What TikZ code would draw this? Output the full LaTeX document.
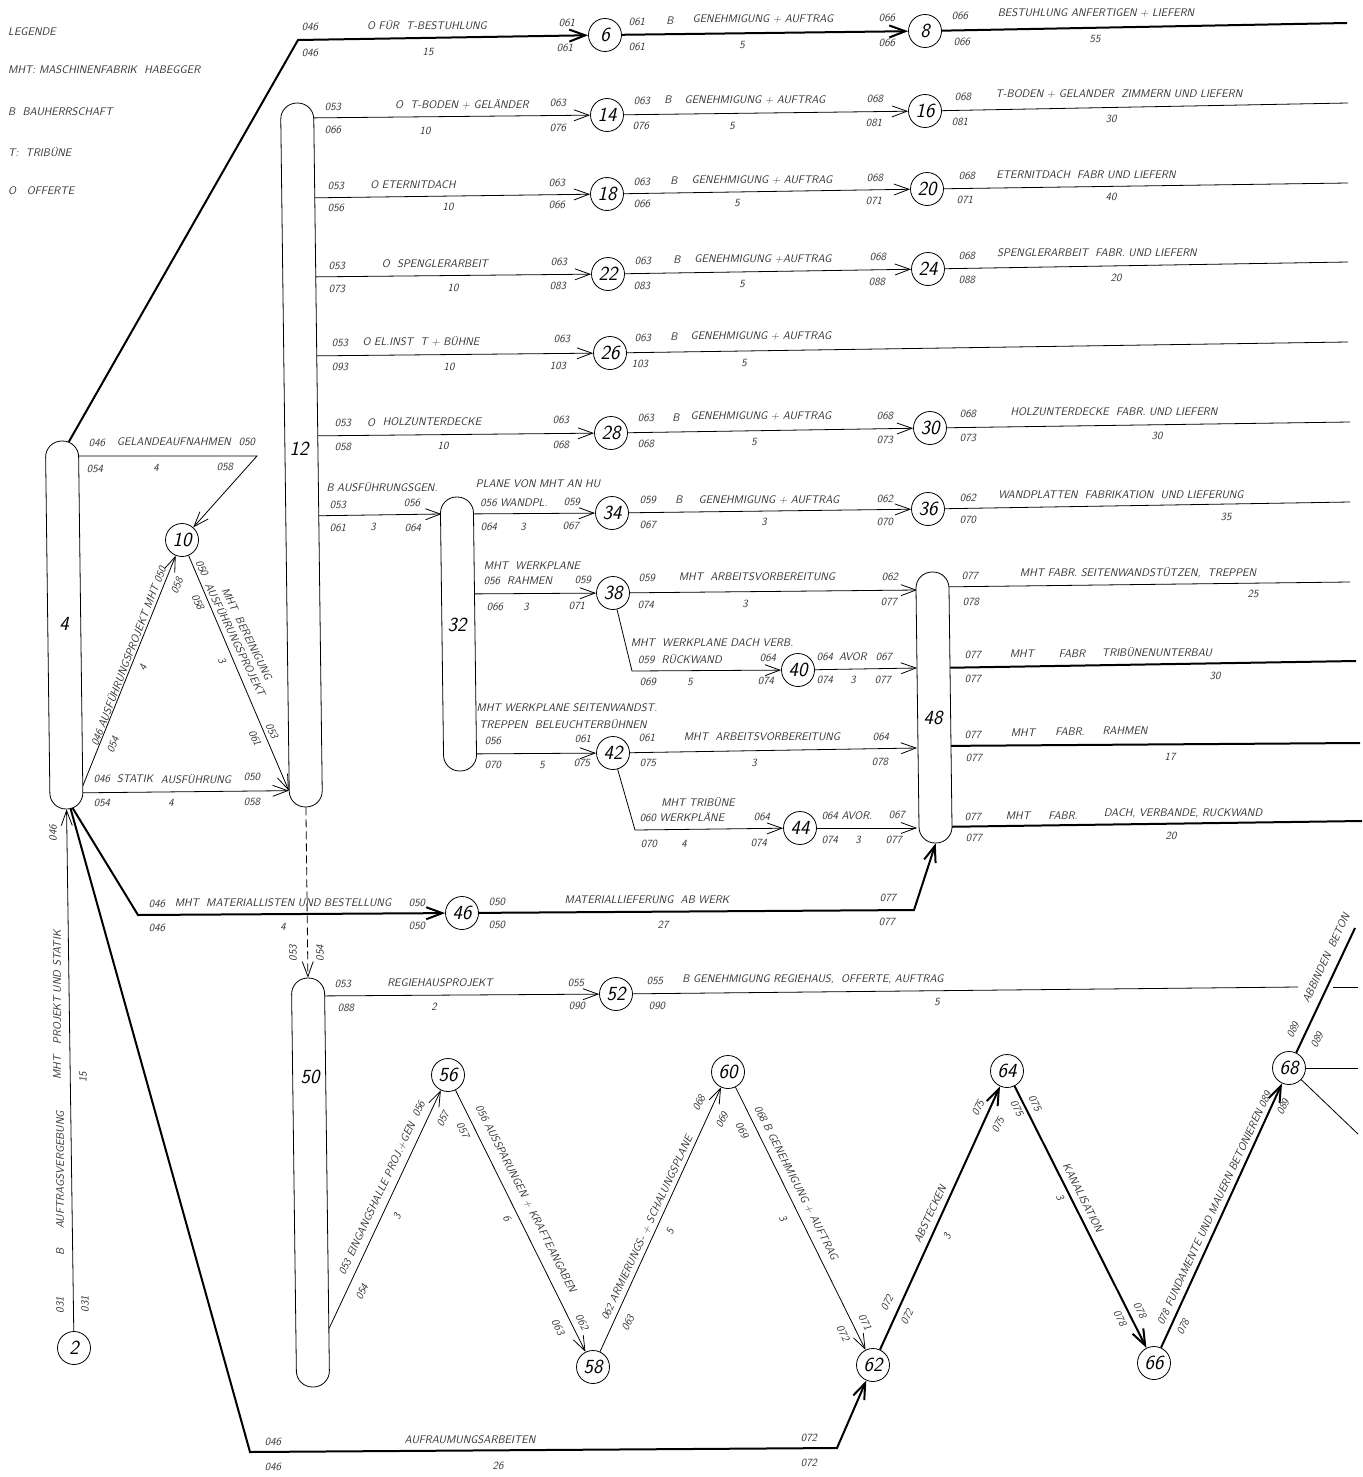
\documentclass[tikz,border=0pt]{standalone}
\usepackage{tikz}
\usetikzlibrary{arrows.meta, calc, backgrounds}

\newcommand{\lblfont}{\fontsize{11}{13}\sffamily\slshape\selectfont}
\newcommand{\numfont}{\fontsize{20}{22}\sffamily\slshape\selectfont}

\tikzset{
  evt/.style={circle, draw, line width=.8pt, fill=white, minimum size=33pt, inner sep=0pt, font=\numfont},
  bar/.style={draw, line width=.8pt, fill=white, rounded corners=16pt, minimum width=33pt, inner sep=0pt, rotate=.72},
  barnum/.style={font=\numfont},
  go/.style={line width=.8pt},
  thk/.style={line width=2pt},
  act/.style={go, -{Straight Barb[length=15pt,width=11pt]}},
  crit/.style={thk, -{Straight Barb[length=16pt,width=12pt]}},
  lbl/.style={font=\lblfont, text=black!80, inner sep=0pt},
}

\begin{document}
\begin{tikzpicture}[x=1pt, y=-1pt]
\useasboundingbox (0,0) rectangle (1362,1477);

% Legende
\node[lbl, anchor=west] (leg) at (8,32) {LEGENDE};
\node[lbl, anchor=west] (leg1) at (8,70) {MHT:\ MASCHINENFABRIK\ \ HABEGGER};
\node[lbl, anchor=west] (leg2) at (8,112) {B\ \ BAUHERRSCHAFT};
\node[lbl, anchor=west] (leg3) at (8,152) {T:\ \ TRIBÜNE};
\node[lbl, anchor=west] (leg4) at (8,191) {O\ \ \ OFFERTE};

% Sammelbalken
\node[bar, minimum height=368pt] (p4) at (64.25,625) {};
\node[bar, minimum height=704pt] (p12) at (301.5,455) {};
\node[bar, minimum height=274pt] (p32) at (458.5,634) {};
\node[bar, minimum height=271pt] (p48) at (934,707.5) {};
\node[bar, minimum height=409pt] (p50) at (310.5,1182.5) {};
\node[barnum] (b4) at (64,624) {4};
\node[barnum] (b12) at (299,449) {12};
\node[barnum] (b32) at (457,625) {32};
\node[barnum] (b48) at (933,718) {48};
\node[barnum] (b50) at (310,1077) {50};

% Ereignisse
\node[evt] (n2) at (74,1348) {2};
\node[evt] (n6) at (605,35) {6};
\node[evt] (n8) at (925,31) {8};
\node[evt] (n10) at (182,540) {10};
\node[evt] (n14) at (607,115) {14};
\node[evt] (n16) at (925,111) {16};
\node[evt] (n18) at (607,194) {18};
\node[evt] (n20) at (927,189) {20};
\node[evt] (n22) at (608,274) {22};
\node[evt] (n24) at (928,269) {24};
\node[evt] (n26) at (610,353) {26};
\node[evt] (n28) at (611,433) {28};
\node[evt] (n30) at (930,428) {30};
\node[evt] (n34) at (612,513) {34};
\node[evt] (n36) at (928,509) {36};
\node[evt] (n38) at (613,593) {38};
\node[evt] (n40) at (798,670) {40};
\node[evt] (n42) at (613,753) {42};
\node[evt] (n44) at (800,828) {44};
\node[evt] (n46) at (462,913) {46};
\node[evt] (n52) at (616,994) {52};
\node[evt] (n56) at (448,1075) {56};
\node[evt] (n58) at (593,1367) {58};
\node[evt] (n60) at (728,1072) {60};
\node[evt] (n62) at (873,1365) {62};
\node[evt] (n64) at (1007,1071) {64};
\node[evt] (n66) at (1154,1363) {66};
\node[evt] (n68) at (1289,1068) {68};

% Knickpunkte und freie Enden
\coordinate (t12) at ($(p12.north west)!.976!(p12.south west)$);
\coordinate (k6) at (298,40);
\coordinate (k10) at (257,456);
\coordinate (k40) at (632,671);
\coordinate (k44) at (635,830);
\coordinate (k46) at (138,915);
\coordinate (k48) at (914,910);
\coordinate (k62a) at (250,1452);
\coordinate (k62b) at (837,1448);
\coordinate (e8) at (1347,23);
\coordinate (e16) at (1348,103);
\coordinate (e20) at (1348,183);
\coordinate (e24) at (1348,262);
\coordinate (e26) at (1348,342);
\coordinate (e30) at (1350,422);
\coordinate (e36) at (1350,502);
\coordinate (e48a) at (1350,582);
\coordinate (e48b) at (1356,661);
\coordinate (e48c) at (1360,743);
\coordinate (e48d) at (1362,821);
\coordinate (e52a) at (1298,987);
\coordinate (e52b) at (1333,987);
\coordinate (e52c) at (1358,987);
\coordinate (e68a) at (1355,928);
\coordinate (e68b) at (1358,1068);
\coordinate (e68c) at (1358,1134);

% Taetigkeiten
\begin{scope}[on background layer]
\draw[crit] ([xshift=3pt,yshift=-8pt]p4.north) -- (k6) -- (n6);
\draw[crit] (n6) -- (n8);
\draw[thk] (n8) -- (e8);
\draw[act] (p12 |- 0,118) -- (n14);
\draw[act] (n14) -- (n16);
\draw[go] (n16) -- (e16);
\draw[act] (p12 |- 0,198) -- (n18);
\draw[act] (n18) -- (n20);
\draw[go] (n20) -- (e20);
\draw[act] (p12 |- 0,277) -- (n22);
\draw[act] (n22) -- (n24);
\draw[go] (n24) -- (e24);
\draw[act] (p12 |- 0,356) -- (n26);
\draw[go] (n26) -- (e26);
\draw[act] (p12 |- 0,436) -- (n28);
\draw[act] (n28) -- (n30);
\draw[go] (n30) -- (e30);
\draw[act] (p12 |- 0,516) -- (p32.west |- 0,514);
\draw[act] (p32 |- 0,514) -- (n34);
\draw[act] (n34) -- (n36);
\draw[go] (n36) -- (e36);
\draw[act] (p32 |- 0,594) -- (n38);
\draw[act] (n38) -- (p48.west |- 0,590);
\draw[act] (n38) -- (k40) -- (n40);
\draw[act] (n40) -- (p48.west |- 0,668);
\draw[act] (p32 |- 0,754) -- (n42);
\draw[act] (n42) -- (p48.west |- 0,748);
\draw[act] (n42) -- (k44) -- (n44);
\draw[act] (n44) -- (p48.west |- 0,828);
\draw[go] (p48 |- 0,587) -- (e48a);
\draw[thk] (p48 |- 0,668) -- (e48b);
\draw[thk] (p48 |- 0,746) -- (e48c);
\draw[thk] (p48 |- 0,827) -- (e48d);
% Dreieck um 10
\draw[act] (p4 |- 0,456) -- (k10) -- (n10);
\draw[act] (p4.east |- 0,790) -- (n10);
\draw[act] (n10) -- (t12);
\draw[act] (p4 |- 0,793) -- (t12);
% unterer Teil
\draw[act] (n2) -- (p4.south);
\draw[crit] ([xshift=2pt,yshift=8pt]p4.south) -- (k46) -- (n46);
\draw[crit] (n46) -- (k48) -- (p48.south);
\draw[crit] ([xshift=2pt,yshift=8pt]p4.south) -- (k62a) -- (k62b) -- (n62);
\draw[act, dash pattern=on 8pt off 4pt] (p12.south) -- (p50.north);
\draw[act] (p50 |- 0,996) -- (n52);
\draw[go] (n52) -- (e52a);
\draw[go] (e52b) -- (e52c);
\draw[act] (p50.east |- 0,1332) -- (n56);
\draw[act] (n56) -- (n58);
\draw[act] (n58) -- (n60);
\draw[act] (n60) -- (n62);
\draw[crit] (n62) -- (n64);
\draw[crit] (n64) -- (n66);
\draw[crit] (n66) -- (n68);
\draw[thk] (n68) -- (e68a);
\draw[go] (n68) -- (e68b);
\draw[go] (n68) -- (e68c);
\end{scope}

% Beschriftung oben
\foreach \x/\y/\t in {310/27/046, 310/53/046, 427/25/O FÜR\ \ T-BESTUHLUNG, 428/52/15, 567/23/061, 565/48/061,
  637/22/061, 670/21/B, 763/19/GENEHMIGUNG + AUFTRAG, 887/18/066, 887/43/066, 637/47/061, 742/45/5,
  960/16/066, 1096/13/BESTUHLUNG ANFERTIGEN + LIEFERN, 962/42/066, 1095/39/55,
  333/107/053, 462/104/O\ \ T-BODEN + GELÄNDER, 558/103/063, 333/130/066, 425/131/10, 558/128/076,
  642/101/063, 668/100/B, 755/100/GENEHMIGUNG + AUFTRAG, 875/99/068, 641/126/076, 732/126/5, 874/123/081,
  963/97/068, 1119/94/T-BODEN + GELANDER\ \ ZIMMERN UND LIEFERN, 960/122/081, 1111/119/30,
  336/186/053, 413/185/O ETERNITDACH, 557/183/063, 336/208/056, 448/207/10, 557/205/066,
  642/182/063, 674/181/B, 762/180/GENEHMIGUNG + AUFTRAG, 875/178/068, 642/204/066, 737/203/5, 874/201/071,
  967/176/068, 1086/175/ETERNITDACH\ \ FABR UND LIEFERN, 965/200/071, 1111/197/40,
  337/266/053, 435/264/O\ \ SPENGLERARBEIT, 559/262/063, 337/289/073, 453/288/10, 558/286/083,
  643/261/063, 677/260/B, 763/259/GENEHMIGUNG +AUFTRAG, 878/257/068, 642/286/083, 742/284/5, 877/282/088,
  967/256/068, 1097/253/SPENGLERARBEIT\ \ FABR.\ UND LIEFERN, 967/280/088, 1116/278/20,
  340/343/053, 421/341/O EL.INST\ \ T + BÜHNE, 562/339/063, 340/367/093, 449/367/10, 558/366/103,
  643/338/063, 674/337/B, 761/336/GENEHMIGUNG + AUFTRAG, 640/364/103, 744/363/5}
  \node[lbl] at (\x,\y) {\t};

% Beschriftung Mitte
\foreach \x/\y/\t in {343/423/053, 371/423/O, 432/422/HOLZUNTERDECKE, 561/420/063, 343/447/058, 443/446/10, 561/445/068,
  646/418/063, 676/418/B, 761/416/GENEHMIGUNG + AUFTRAG, 885/416/068, 646/444/068, 754/442/5, 885/440/073,
  968/414/068, 1114/412/HOLZUNTERDECKE\ \ FABR.\ UND LIEFERN, 968/438/073, 1157/436/30,
  382/487/B AUSFÜHRUNGSGEN., 338/505/053, 412/503/056, 338/528/061, 373/527/3, 413/528/064,
  538/484/PLANE VON MHT AN HU, 514/503/056 WANDPL., 572/502/059, 489/527/064, 523/527/3, 571/526/067,
  648/500/059, 679/500/B, 769/500/GENEHMIGUNG + AUFTRAG, 885/499/062, 648/525/067, 764/522/3, 885/522/070,
  968/498/062, 1121/495/WANDPLATTEN\ \ FABRIKATION\ \ UND LIEFERUNG, 968/520/070, 1226/517/35,
  532/566/MHT\ \ WERKPLANE, 518/581/056\ \ RAHMEN, 583/580/059, 495/607/066, 526/607/3, 577/606/071,
  647/578/059, 757/577/MHT\ \ ARBEITSVORBEREITUNG, 890/577/062, 646/605/074, 745/604/3, 889/602/077,
  712/643/MHT\ \ WERKPLANE DACH VERB., 680/659/059\ \ RÜCKWAND, 768/658/064, 648/682/069, 690/682/5, 766/681/074,
  825/657/064, 853/657/AVOR, 884/657/067, 825/680/074, 853/680/3, 883/680/077,
  970/576/077, 1138/573/{MHT FABR.\ SEITENWANDSTÜTZEN,\ \ TREPPEN}, 971/602/078, 1253/594/25,
  973/655/077, 1022/654/MHT, 1072/654/FABR, 1157/652/TRIBÜNENUNTERBAU, 973/679/077, 1215/676/30,
  567/708/MHT WERKPLANE SEITENWANDST., 563/724/TREPPEN\ \ BELEUCHTERBÜHNEN, 493/741/056, 583/739/061, 493/765/070, 542/765/5, 582/763/075,
  647/738/061, 762/737/MHT\ \ ARBEITSVORBEREITUNG, 881/737/064, 648/763/075, 754/763/3, 880/762/078,
  973/735/077, 1023/733/MHT, 1070/732/FABR., 1125/731/RAHMEN, 974/758/077, 1170/757/17,
  698/802/MHT TRIBÜNE, 682/817/060 WERKPLÄNE, 762/817/064, 649/844/070, 684/844/4, 759/843/074,
  847/816/064 AVOR., 897/815/067, 830/840/074, 858/840/3, 894/840/077,
  973/817/077, 1018/816/MHT, 1063/816/FABR., 1183/813/{DACH, VERBANDE, RUCKWAND}, 974/838/077, 1171/836/20}
  \node[lbl] at (\x,\y) {\t};

% Beschriftung links und unten
\foreach \x/\y/\t in {97/443/046, 174/442/GELANDEAUFNAHMEN, 247/442/050, 95/469/054, 156/468/4, 225/467/058,
  102/779/046, 135/779/STATIK, 196/779/AUSFÜHRUNG, 252/777/050, 102/803/054, 171/803/4, 252/802/058,
  157/904/046, 283/903/MHT\ \ MATERIALLISTEN UND BESTELLUNG, 417/903/050, 157/928/046, 283/927/4, 417/926/050,
  497/902/050, 647/900/MATERIALLIEFERUNG\ \ AB WERK, 888/898/077, 497/925/050, 663/925/27, 887/922/077,
  343/984/053, 440/983/REGIEHAUSPROJEKT, 576/983/055, 346/1008/088, 434/1007/2, 577/1006/090,
  655/981/055, 813/979/{B GENEHMIGUNG REGIEHAUS,\ \ OFFERTE, AUFTRAG}, 657/1006/090, 937/1002/5,
  273/1442/046, 470/1440/AUFRAUMUNGSARBEITEN, 809/1438/072, 273/1467/046, 498/1466/26, 809/1463/072}
  \node[lbl] at (\x,\y) {\t};

% schraege Beschriftung
\foreach \x/\y/\t in {128/656/046 AUSFÜHRUNGSPROJEKT MHT 050, 177/586/058, 143/668/4, 113/745/054}
  \node[lbl, rotate=69] at (\x,\y) {\t};
\foreach \x/\y/\t in {202/568/050, 198/602/058, 222/660/3, 272/731/053, 255/738/061}
  \node[lbl, rotate=-66] at (\x,\y) {\t};
\node[lbl, rotate=-64, align=center] (bereinigung) at (241,637) {MHT\ \ BEREINIGUNG\\AUSFÜHRUNGSPROJEKT};
\foreach \x/\y/\t in {60/1305/031, 60/1252/B, 60/1170/AUFTRAGSVERGEBUNG, 57/1005/MHT\ \ \ PROJEKT UND STATIK,
  53/833/046, 85/1304/031, 83/1077/15, 293/953/053, 320/953/054}
  \node[lbl, rotate=90] at (\x,\y) {\t};
\foreach \x/\y/\t in {382/1188/053 EINGANGSHALLE PROJ.+GEN\ \ 056, 397/1217/3, 362/1292/054, 443/1119/057,
  647/1228/062 ARMIERUNGS- + SCHALUNGSPLANE, 670/1232/5, 628/1323/063, 699/1103/068, 722/1120/069,
  930/1214/ABSTECKEN, 947/1237/3, 887/1303/072, 907/1317/072, 978/1108/075, 998/1125/075,
  1214/1208/078 FUNDAMENTE UND MAUERN BETONIEREN 089, 1183/1327/078, 1283/1107/089,
  1326/958/ABBINDEN\ \ BETON, 1293/1030/089, 1317/1040/089}
  \node[lbl, rotate=65] at (\x,\y) {\t};
\foreach \x/\y/\t in {526/1199/056 AUSSPARUNGEN + KRAFTEANGABEN, 507/1218/6, 463/1130/057, 582/1322/062, 558/1327/063,
  796/1183/068 B GENEHMIGUNG + AUFTRAG, 783/1218/3, 742/1130/069, 865/1322/071, 843/1333/072,
  1083/1198/KANALISATION, 1060/1197/3, 1017/1108/075, 1035/1103/075, 1140/1310/078, 1120/1318/078}
  \node[lbl, rotate=-63] at (\x,\y) {\t};
\end{tikzpicture}
\end{document}
